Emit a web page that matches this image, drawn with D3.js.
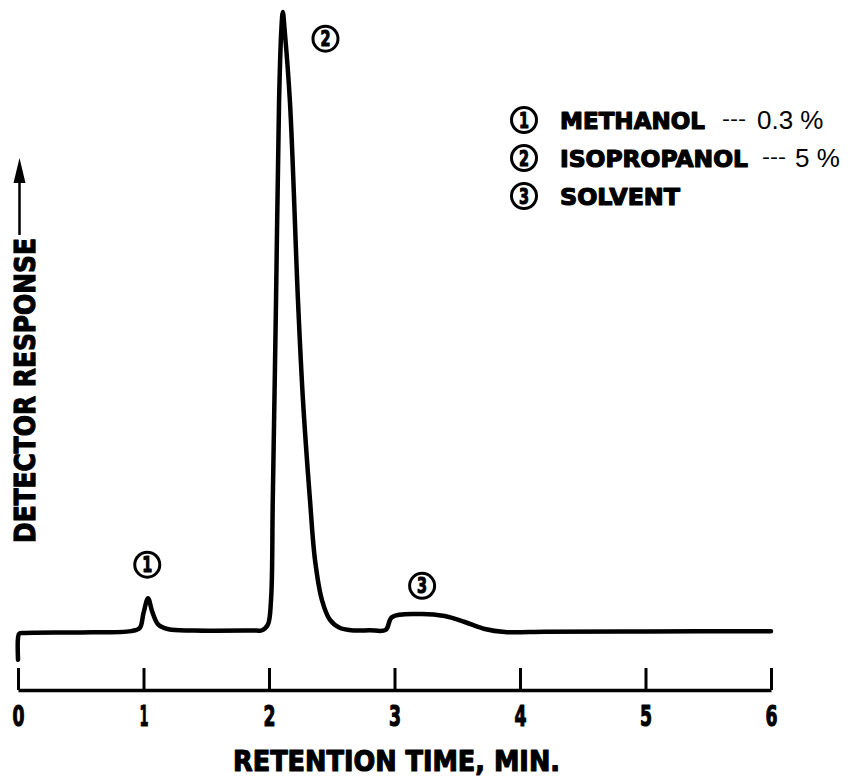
<!DOCTYPE html>
<html>
<head>
<meta charset="utf-8">
<script src="https://cdn.jsdelivr.net/npm/d3@7"></script>
<style>
  html, body { margin: 0; padding: 0; background: #fff; }
  svg { display: block; }
  .heavy { font-family: "DejaVu Sans", sans-serif; font-weight: bold; fill: #000; stroke: #000; stroke-width: 1.2; stroke-linejoin: round; }
  .plain { font-family: "Liberation Sans", Arial, sans-serif; fill: #000; }
</style>
</head>
<body>
<svg id="chart" width="866" height="781"></svg>
<script>
// Cromatograma: metanol / isopropanol / solvente
// tiempo de retención (min) y respuesta del detector (relativa, pico 2 = 100)
const times = [0, 0, 0.01, 0.05, 0.5, 0.9, 0.97, 1.0, 1.036, 1.07, 1.12, 1.2, 1.4, 1.9, 1.94, 1.99, 2.016, 2.03, 2.056, 2.08, 2.098, 2.11, 2.125, 2.167, 2.231, 2.271, 2.327, 2.367, 2.422, 2.486, 2.566, 2.685, 2.8, 2.93, 2.98, 3.2, 3.4, 3.56, 3.72, 3.88, 4.2, 5.0, 6.0];
const response = [-4.3, -0.8, -0.1, 0, 0.1, 0.3, 0.8, 3.2, 5.6, 3.4, 1.3, 0.6, 0.4, 0.4, 0.4, 1.3, 5.3, 21.3, 53.5, 85.5, 97, 100, 97, 85.5, 53.5, 37.4, 21.3, 11.7, 5.3, 2.1, 0.8, 0.4, 0.45, 0.5, 2.57, 3.05, 2.73, 1.77, 0.64, 0.16, 0.2, 0.25, 0.3];

const xTicks = [0, 1, 2, 3, 4, 5, 6];

// etiquetas de los picos: [número, tiempo, respuesta]
const peakLabels = [[1, 1.03, 11], [2, 2.45, 95.7], [3, 3.22, 7.6]];

// leyenda
const legendNames = ['METHANOL', 'ISOPROPANOL', 'SOLVENT'];
const legendConc = ['0.3 %', '5 %', ''];

const W = 866, H = 781;
const svg = d3.select('#chart');

const x = d3.scaleLinear().domain([0, 6]).range([18, 771]);
const y = d3.scaleLinear().domain([0, 100]).range([633, 12]);

// traza
const pts = times.map((t, i) => [t, response[i]]);
svg.append('path')
  .datum(pts)
  .attr('d', d3.line().x(d => x(d[0])).y(d => y(d[1])).curve(d3.curveCatmullRom.alpha(0.5)))
  .attr('fill', 'none').attr('stroke', '#000').attr('stroke-width', 4.5)
  .attr('stroke-linejoin', 'round').attr('stroke-linecap', 'round');

// eje de tiempo (ticks hacia arriba)
const ax = svg.append('g').attr('transform', 'translate(0,690)')
  .call(d3.axisBottom(x).tickValues(xTicks).tickFormat(d3.format('d'))
    .tickSizeInner(-22).tickSizeOuter(0).tickPadding(16));
ax.select('.domain').attr('stroke', '#000').attr('stroke-width', 3.5);
ax.selectAll('.tick line').attr('stroke', '#000').attr('stroke-width', 3);
ax.selectAll('.tick text').attr('class', 'heavy').style('font-size', '28px')
  .attr('textLength', d => d === 1 ? 9 : 12).attr('lengthAdjust', 'spacingAndGlyphs')
  .attr('dy', '0.71em');

svg.append('text').attr('class', 'heavy')
  .attr('x', 233).attr('y', 771)
  .style('font-size', '28px').attr('textLength', 327).attr('lengthAdjust', 'spacingAndGlyphs')
  .text('RETENTION TIME, MIN.');

// eje vertical: rótulo + flecha
svg.append('text').attr('class', 'heavy')
  .attr('transform', 'translate(35,543) rotate(-90)')
  .style('font-size', '29px').attr('textLength', 305).attr('lengthAdjust', 'spacingAndGlyphs')
  .text('DETECTOR RESPONSE');
svg.append('line').attr('x1', 19.5).attr('x2', 19.5).attr('y1', 235).attr('y2', 178)
  .attr('stroke', '#000').attr('stroke-width', 2.5);
svg.append('path').attr('d', 'M19.5,158 L13.5,183 L25.5,183 Z').attr('fill', '#000');

// números en círculo
function circled(g, cx, cy, n) {
  g.append('circle').attr('cx', cx).attr('cy', cy).attr('r', 12.5)
    .attr('fill', '#fff').attr('stroke', '#000').attr('stroke-width', 3);
  g.append('text').attr('class', 'heavy').attr('x', cx).attr('y', cy + 7.5)
    .attr('text-anchor', 'middle').style('font-size', '21px')
    .attr('textLength', 10).attr('lengthAdjust', 'spacingAndGlyphs').text(n);
}
peakLabels.forEach(p => circled(svg, x(p[1]), y(p[2]), p[0]));

const nameLen = [145, 188, 120];
const dashX = [722, 762], valX = [757, 795];
legendNames.forEach((name, i) => {
  const cy = 120 + i * 38;
  circled(svg, 524, cy, i + 1);
  svg.append('text').attr('class', 'heavy').attr('x', 560).attr('y', cy + 9)
    .style('font-size', '23px').attr('textLength', nameLen[i]).attr('lengthAdjust', 'spacingAndGlyphs')
    .text(name);
  if (legendConc[i]) {
    svg.append('text').attr('class', 'plain').attr('x', dashX[i]).attr('y', cy + 6)
      .style('font-size', '20px').attr('textLength', 24).attr('lengthAdjust', 'spacingAndGlyphs').text('---');
    svg.append('text').attr('class', 'plain').attr('x', valX[i]).attr('y', cy + 9)
      .style('font-size', '26px').text(legendConc[i]);
  }
});
</script>
</body>
</html>
